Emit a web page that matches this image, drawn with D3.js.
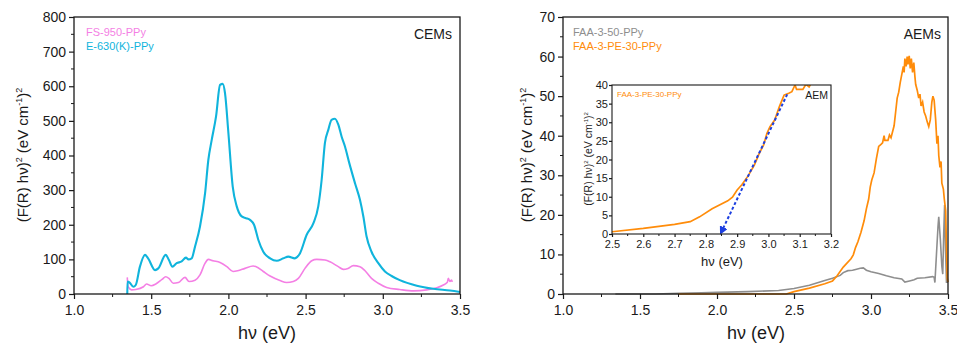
<!DOCTYPE html>
<html>
<head>
<meta charset="utf-8">
<script src="https://cdn.jsdelivr.net/npm/d3@7"></script>
<style>
  html, body { margin: 0; padding: 0; background: #fff; }
  svg { display: block; font-family: "Liberation Sans", Arial, sans-serif; }
</style>
</head>
<body>
<svg id="chart" width="957" height="346"></svg>
<script>
// ---- Cation exchange membranes (left panel) ----
const cemEnergy630 = [1.345,1.347,1.36,1.384,1.40,1.427,1.46,1.48,1.525,1.546,1.594,1.615,1.637,1.665,1.697,1.725,1.741,1.762,1.784,1.816,1.849,1.87,1.892,1.92,1.946,1.963,1.978,2.0,2.028,2.054,2.086,2.114,2.14,2.166,2.194,2.226,2.27,2.313,2.356,2.388,2.43,2.464,2.507,2.55,2.582,2.604,2.625,2.647,2.668,2.69,2.712,2.733,2.755,2.783,2.82,2.852,2.874,2.895,2.927,2.971,3.014,3.057,3.11,3.22,3.327,3.435,3.5];
const cemValue630  = [0,36,33,21,26,79,113,103,69,74,113,98,79,89,94,105,100,103,137,195,291,387,445,513,604,607,580,465,310,253,224,219,214,200,156,122,103,96,103,108,103,118,171,204,253,330,436,474,503,506,489,455,426,378,320,272,224,166,122,89,65,52,40,24,15,10,6];

const cemEnergy950 = [1.345,1.35,1.373,1.40,1.45,1.47,1.50,1.53,1.57,1.594,1.615,1.643,1.676,1.719,1.745,1.784,1.816,1.849,1.87,1.90,1.946,1.99,2.03,2.06,2.107,2.16,2.18,2.226,2.27,2.334,2.377,2.42,2.453,2.496,2.54,2.572,2.626,2.658,2.712,2.744,2.775,2.809,2.852,2.885,2.927,2.971,3.025,3.11,3.2,3.285,3.35,3.392,3.418,3.424,3.435,3.445,3.45];
const cemValue950  = [48,21,12,13,21,29,24,29,42,50,45,31,33,48,36,40,55,89,100,96,91,79,65,67,74,81,79,65,52,39,33,36,45,74,96,100,98,93,79,71,74,82,79,67,45,31,19,13,9,12,18,26,34,45,36,40,35];

// ---- Anion exchange membranes (right panel + inset) ----
const aemEnergy50 = [1.34,1.6,1.75,1.9,2.0,2.2,2.4,2.5,2.6,2.7,2.75,2.8,2.82,2.85,2.88,2.9,2.93,2.95,2.97,3.0,3.05,3.1,3.15,3.2,3.22,3.25,3.28,3.3,3.35,3.4,3.41,3.415,3.425,3.435,3.44,3.45,3.46,3.466,3.472,3.478,3.484,3.49,3.5];
const aemValue50  = [0,0,0.15,0.3,0.4,0.6,0.9,1.4,2.2,3.4,4.0,4.7,5.4,5.9,6.0,6.2,6.5,6.6,6.0,5.6,5.2,4.6,4.1,3.8,3.0,3.3,3.6,4.0,4.1,4.4,4.2,2.9,10,17,19.5,14,7,5.0,15,22.5,11,3,3];

const aemEnergyPE30 = [1.75,2.0,2.2,2.45,2.5,2.6,2.7,2.75,2.78,2.82,2.87,2.885,2.9,2.915,2.935,2.955,2.97,2.985,2.995,3.005,3.02,3.035,3.05,3.065,3.075,3.085,3.09,3.11,3.12,3.13,3.14,3.15,3.16,3.17,3.18,3.19,3.2,3.21,3.215,3.22,3.228,3.235,3.24,3.248,3.255,3.262,3.27,3.278,3.285,3.29,3.3,3.31,3.318,3.325,3.335,3.345,3.355,3.365,3.375,3.385,3.395,3.402,3.41,3.42,3.428,3.435,3.44,3.448,3.455,3.46,3.47,3.476,3.485,3.49,3.495,3.5];
const aemValuePE30  = [0,0,0,0,0.6,1.5,2.6,3.3,4.6,6.8,8.9,9.9,11.8,13.2,15.6,18.5,21.5,24,27,28.8,30.6,34.2,37.3,37.8,38.2,40,38.8,38.8,40.2,39.5,41,42.5,46,49.5,51,53.5,55.5,57.5,56,59.5,57.5,60,58,60.2,57,59.5,56,58.5,55,53,51.5,49.5,50.5,47.5,48.5,46,45,43.5,42.3,44,48.5,50,49,44,38,40,35,32,33.5,28,26.5,24,21,12,4,3];

// Linear-fit extrapolation of the absorption edge (band gap estimate)
const tangentEnergy = [3.06, 2.85];
const tangentValue  = [37.5, 0.6];

// Axis tick values
const xTicksMain  = [1.0, 1.5, 2.0, 2.5, 3.0, 3.5];
const yTicksCEM   = [0, 100, 200, 300, 400, 500, 600, 700, 800];
const yTicksAEM   = [0, 10, 20, 30, 40, 50, 60, 70];
const xTicksInset = [2.5, 2.6, 2.7, 2.8, 2.9, 3.0, 3.1, 3.2];
const yTicksInset = [0, 5, 10, 15, 20, 25, 30, 35, 40];

const COLORS = {
  cyan: "#10b4dc",
  pink: "#f47fe4",
  gray: "#8e8e8e",
  orange: "#ff8c0a",
  blue: "#1d3fe0",
  axis: "#1a1a1a"
};

const zip = (xs, ys) => xs.map((x, i) => ({x, y: ys[i]}));
const svg = d3.select("#chart");

svg.append("defs").append("marker")
  .attr("id", "arrow")
  .attr("viewBox", "0 0 10 10")
  .attr("refX", 6).attr("refY", 5)
  .attr("markerWidth", 4.2).attr("markerHeight", 4.2)
  .attr("orient", "auto")
  .append("path")
  .attr("d", "M0,0 L10,5 L0,10 Z")
  .attr("fill", COLORS.blue);

function drawFrame(g, x, y, opt) {
  const [x0, x1] = x.range();
  const [y0, y1] = y.range();
  const fmtX = opt.fmtX || d3.format(".1f");
  const fmtY = opt.fmtY || d3.format("d");

  // minor ticks
  g.append("g").selectAll("line").data(opt.xMinor).join("line")
    .attr("x1", d => x(d)).attr("x2", d => x(d))
    .attr("y1", y0).attr("y2", y0 + opt.minorLen)
    .attr("stroke", COLORS.axis).attr("stroke-width", 1);
  g.append("g").selectAll("line").data(opt.yMinor).join("line")
    .attr("y1", d => y(d)).attr("y2", d => y(d))
    .attr("x1", x0).attr("x2", x0 - opt.minorLen)
    .attr("stroke", COLORS.axis).attr("stroke-width", 1);

  const ax = g.append("g").attr("transform", `translate(0,${y0})`)
    .call(d3.axisBottom(x).tickValues(opt.xTicks).tickFormat(fmtX)
      .tickSize(opt.majorLen).tickPadding(opt.xPad));
  const ay = g.append("g").attr("transform", `translate(${x0},0)`)
    .call(d3.axisLeft(y).tickValues(opt.yTicks).tickFormat(fmtY)
      .tickSize(opt.majorLen).tickPadding(opt.yPad));
  [ax, ay].forEach(a => {
    a.select(".domain").remove();
    a.selectAll("line").attr("stroke", COLORS.axis).attr("stroke-width", 1.2);
    a.selectAll("text").attr("fill", COLORS.axis)
      .style("font-size", opt.tickFont + "px")
      .style("font-family", '"Liberation Sans", Arial, sans-serif');
  });

  // box
  g.append("rect")
    .attr("x", x0).attr("y", y1)
    .attr("width", x1 - x0).attr("height", y0 - y1)
    .attr("fill", "none").attr("stroke", COLORS.axis).attr("stroke-width", opt.boxWidth);
}

function yTitle(g, cx, cy, size) {
  const t = g.append("text")
    .attr("transform", `translate(${cx},${cy}) rotate(-90)`)
    .attr("text-anchor", "middle")
    .attr("fill", COLORS.axis)
    .style("font-size", size + "px");
  const sup = Math.round(size * 0.6);
  t.append("tspan").text("(F(R) h\u03bd)");
  t.append("tspan").attr("dy", -size * 0.4).style("font-size", sup + "px").text("2");
  t.append("tspan").attr("dy", size * 0.4).text(" (eV cm");
  t.append("tspan").attr("dy", -size * 0.4).style("font-size", sup + "px").text("-1");
  t.append("tspan").attr("dy", size * 0.4).text(")");
  t.append("tspan").attr("dy", -size * 0.4).style("font-size", sup + "px").text("2");
}

function label(g, x, y, text, size, color, anchor) {
  g.append("text").attr("x", x).attr("y", y)
    .attr("text-anchor", anchor || "start")
    .attr("fill", color).style("font-size", size + "px").text(text);
}

const mainOpt = {
  xTicks: xTicksMain,
  xMinor: d3.range(1.25, 3.5, 0.5),
  majorLen: 5, minorLen: 3, xPad: 6, yPad: 3, tickFont: 14, boxWidth: 1.3
};

// ================= Left panel: CEMs =================
{
  const g = svg.append("g");
  const x = d3.scaleLinear().domain([1.0, 3.5]).range([74, 460]);
  const y = d3.scaleLinear().domain([0, 800]).range([294, 17]);
  const line = d3.line().x(d => x(d.x)).y(d => y(d.y)).curve(d3.curveMonotoneX);

  g.append("path").datum(zip(cemEnergy950, cemValue950))
    .attr("d", line).attr("fill", "none")
    .attr("stroke", COLORS.pink).attr("stroke-width", 1.6);
  g.append("path").datum(zip(cemEnergy630, cemValue630))
    .attr("d", line).attr("fill", "none")
    .attr("stroke", COLORS.cyan).attr("stroke-width", 2.1);

  drawFrame(g, x, y, Object.assign({}, mainOpt, {
    yTicks: yTicksCEM, yMinor: d3.range(50, 800, 100), fmtY: d3.format("d")
  }));

  label(g, 86, 36, "FS-950-PPy", 11, COLORS.pink);
  label(g, 86, 49.5, "E-630(K)-PPy", 11, COLORS.cyan);
  label(g, 452, 39, "CEMs", 14, COLORS.axis, "end");

  label(g, 267, 339, "h\u03bd (eV)", 18, COLORS.axis, "middle");
  yTitle(g, 28, 155, 15);
}

// ================= Right panel: AEMs =================
{
  const g = svg.append("g");
  const x = d3.scaleLinear().domain([1.0, 3.5]).range([563, 948]);
  const y = d3.scaleLinear().domain([0, 70]).range([294, 17]);
  const line = d3.line().x(d => x(d.x)).y(d => y(d.y));

  g.append("path").datum(zip(aemEnergy50, aemValue50))
    .attr("d", line).attr("fill", "none")
    .attr("stroke", COLORS.gray).attr("stroke-width", 1.6);
  g.append("path").datum(zip(aemEnergyPE30, aemValuePE30))
    .attr("d", line).attr("fill", "none")
    .attr("stroke", COLORS.orange).attr("stroke-width", 1.7);

  drawFrame(g, x, y, Object.assign({}, mainOpt, {
    yTicks: yTicksAEM, yMinor: d3.range(5, 70, 10), fmtY: d3.format("d")
  }));

  label(g, 573, 36, "FAA-3-50-PPy", 11, COLORS.gray);
  label(g, 573, 49.5, "FAA-3-PE-30-PPy", 11, COLORS.orange);
  label(g, 941, 39, "AEMs", 14, COLORS.axis, "end");

  label(g, 756, 339, "h\u03bd (eV)", 18, COLORS.axis, "middle");
  yTitle(g, 532, 155, 15);

  // ---- Inset: band-gap extrapolation ----
  const ig = svg.append("g");
  const ix = d3.scaleLinear().domain([2.5, 3.2]).range([612, 831]);
  const iy = d3.scaleLinear().domain([0, 40]).range([234, 85]);

  ig.append("rect").attr("x", 612).attr("y", 85).attr("width", 219).attr("height", 149)
    .attr("fill", "#fff");

  ig.append("clipPath").attr("id", "insetClip").append("rect")
    .attr("x", 612).attr("y", 85).attr("width", 219).attr("height", 149);

  const iline = d3.line().x(d => ix(d.x)).y(d => iy(d.y));
  ig.append("path")
    .datum(zip(aemEnergyPE30, aemValuePE30).filter(d => d.x >= 2.45 && d.x <= 3.2))
    .attr("clip-path", "url(#insetClip)")
    .attr("d", iline).attr("fill", "none")
    .attr("stroke", COLORS.orange).attr("stroke-width", 1.7);

  ig.append("path").datum(zip(tangentEnergy, tangentValue))
    .attr("d", iline).attr("fill", "none")
    .attr("stroke", COLORS.blue).attr("stroke-width", 2)
    .attr("stroke-dasharray", "3,2.2")
    .attr("marker-end", "url(#arrow)");

  drawFrame(ig, ix, iy, {
    xTicks: xTicksInset, yTicks: yTicksInset,
    xMinor: d3.range(2.55, 3.2, 0.1), yMinor: [],
    majorLen: 3, minorLen: 2, xPad: 3, yPad: 1, tickFont: 11, boxWidth: 1.1,
    fmtX: d3.format(".1f"), fmtY: d3.format("d")
  });

  label(ig, 617, 97, "FAA-3-PE-30-PPy", 8, COLORS.orange);
  label(ig, 828, 99, "AEM", 10.5, COLORS.axis, "end");
  label(ig, 722, 266, "h\u03bd (eV)", 13, COLORS.axis, "middle");
  yTitle(ig, 592, 159, 10.5);
}
</script>
</body>
</html>
